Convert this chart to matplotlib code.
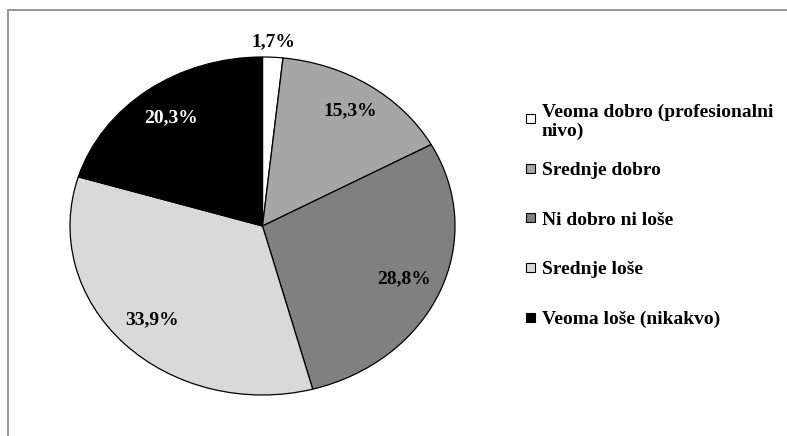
import numpy as np
import matplotlib
matplotlib.use("Agg")
import matplotlib.pyplot as plt
from matplotlib.patches import Rectangle

# data
categories = ["Veoma dobro (profesionalni\nnivo)", "Srednje dobro", "Ni dobro ni loše",
              "Srednje loše", "Veoma loše (nikakvo)"]
percents = [1.7, 15.3, 28.8, 33.9, 20.3]
colors = ["#ffffff", "#a6a6a6", "#808080", "#d9d9d9", "#000000"]
label_colors = ["black", "black", "black", "black", "white"]
label_dist = [1.09, 0.82, 0.80, 0.80, 0.80]

plt.rcParams['font.family'] = ['Liberation Serif', 'DejaVu Serif']
plt.rcParams['font.weight'] = 'bold'

W, H = 787, 436
fig = plt.figure(figsize=(W / 100, H / 100), dpi=100)

# chart frame (runs off the right/bottom edge like the original crop)
fig.patches.append(Rectangle((8 / W, -0.1), 1.2, 1 - 10 / H + 0.1, transform=fig.transFigure,
                             fill=False, edgecolor="#8c8c8c", linewidth=1.3))

ax = fig.add_axes([70 / W, 41 / H, 385 / W, 338 / H])
wedges, _ = ax.pie(percents, colors=colors, startangle=90, counterclock=False,
                   wedgeprops=dict(edgecolor="black", linewidth=0.9))
ax.set_aspect('auto')
ax.set_xlim(-1, 1)
ax.set_ylim(-1, 1)

for w, p, c, r in zip(wedges, percents, label_colors, label_dist):
    ang = np.deg2rad((w.theta1 + w.theta2) / 2)
    ax.text(r * np.cos(ang), r * np.sin(ang), f"{p:.1f}%".replace(".", ","),
            ha="center", va="center", fontsize=14, fontweight="bold", color=c)

# legend, Excel style
y0, step = 119, 49.5
for i, (lab, col) in enumerate(zip(categories, colors)):
    yc = y0 + i * step
    fig.patches.append(Rectangle((526 / W, 1 - (yc + 4.5) / H), 9 / W, 9 / H,
                                 transform=fig.transFigure, facecolor=col,
                                 edgecolor="black", linewidth=0.8))
    fig.text(542 / W, 1 - yc / H, lab, ha="left", va="center_baseline",
             fontsize=14, fontweight="bold", linespacing=1.1)

fig.savefig("out.png", dpi=100)
